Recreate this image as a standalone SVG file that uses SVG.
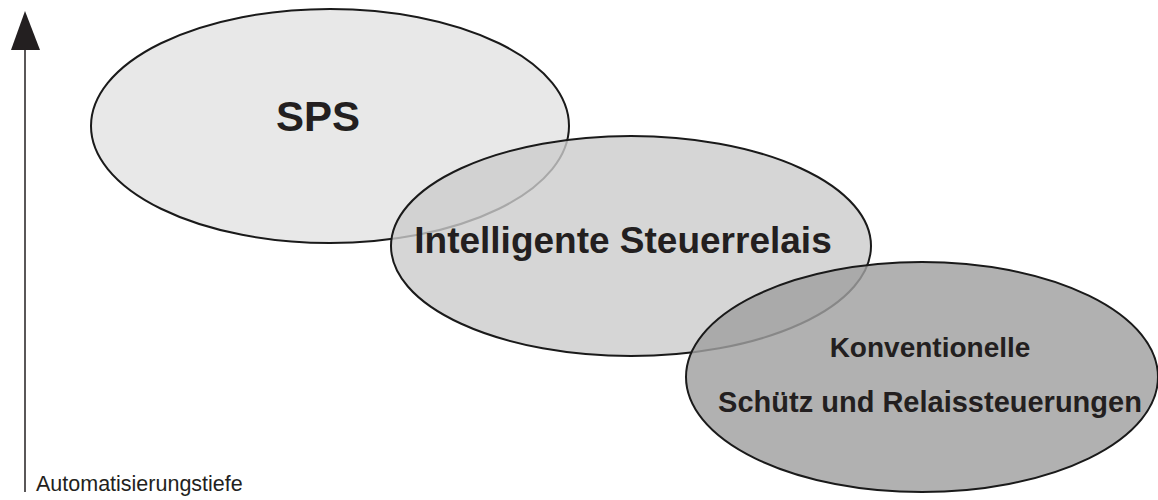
<svg xmlns="http://www.w3.org/2000/svg" width="1158" height="500" viewBox="0 0 1158 500">
<style>
.el{stroke:#1a1a1a;stroke-width:2}
.t{font-family:"Liberation Sans",Arial,Helvetica,sans-serif;font-weight:bold;fill:#231f20;text-anchor:middle}
</style>
<rect width="1158" height="500" fill="#ffffff"/>
<g id="axis">
<line x1="25" y1="48" x2="25" y2="492" stroke="#231f20" stroke-width="1.5"/>
<polygon points="25,11 11,50 40,50" fill="#231f20"/>
<text x="36" y="491" font-family="'Liberation Sans',Arial,sans-serif" font-size="21.5" fill="#231f20">Automatisierungstiefe</text>
</g>
<g id="sps">
<ellipse class="el" cx="330" cy="126" rx="239" ry="117" fill="#e8e8e8"/>
<text class="t" x="318" y="131" font-size="42">SPS</text>
</g>
<g id="relais">
<ellipse class="el" cx="631" cy="246" rx="240" ry="110" fill="#cccccc" fill-opacity="0.8"/>
<text class="t" x="623" y="253" font-size="37">Intelligente Steuerrelais</text>
</g>
<g id="konventionell">
<ellipse class="el" cx="922" cy="377" rx="236" ry="115" fill="#a0a0a0" fill-opacity="0.82"/>
<text class="t" x="930" y="357" font-size="28">Konventionelle</text>
<text class="t" x="930" y="412" font-size="29">Schütz und Relaissteuerungen</text>
</g>
</svg>
